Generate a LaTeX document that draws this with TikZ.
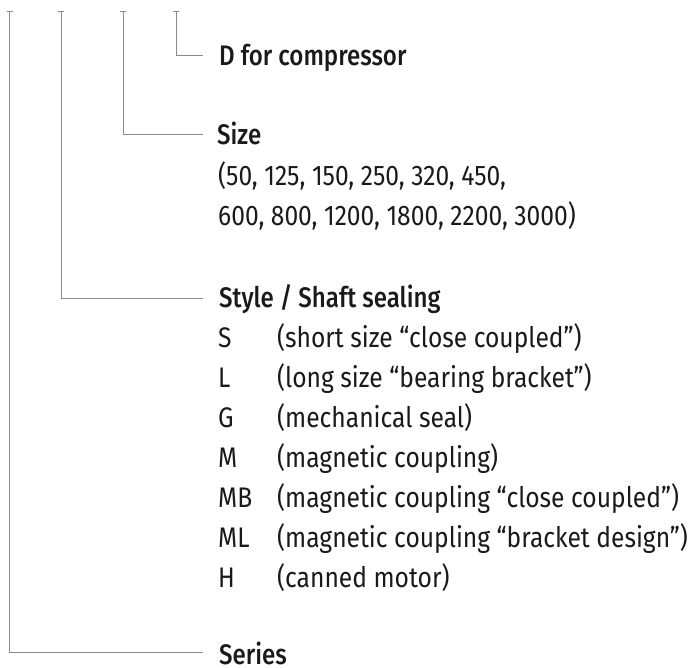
\documentclass[tikz,border=0pt]{standalone}
\usepackage{fontspec}
\setmainfont{Fira Sans}[FakeStretch=0.87]
\newfontfamily\headfont{Fira Sans Medium}[FakeStretch=0.85]
\definecolor{linegray}{HTML}{8A8A8A}
\definecolor{txt}{HTML}{1A1A1A}
\begin{document}
\begin{tikzpicture}[x=1pt,y=-1pt,
  conn/.style={draw=linegray,line width=1pt},
  head/.style={anchor=base west,inner sep=0pt,text=txt,font=\fontsize{28.3}{30}\headfont},
  body/.style={anchor=base west,inner sep=0pt,text=txt,font=\fontsize{28.3}{30}\selectfont}]
\useasboundingbox (0,0) rectangle (695,667);
% top ends
\coordinate (t1) at (9.5,11);
\coordinate (t2) at (61,11);
\coordinate (t3) at (123,11);
\coordinate (t4) at (176,11);
% labels
\node[head] (dcomp) at (219,65) {D for compressor};
\node[head] (size) at (217,144) {Size};
\node[body] (sz1) at (218,185) {(50, 125, 150, 250, 320, 450,};
\node[body] (sz2) at (218,225) {600, 800, 1200, 1800, 2200, 3000)};
\node[head] (style) at (219,307) {Style / Shaft sealing};
\node[body] (kS) at (218,347) {S};
\node[body] (dS) at (277,347) {(short size “close coupled”)};
\node[body] (kL) at (218,387) {L};
\node[body] (dL) at (277,387) {(long size “bearing bracket”)};
\node[body] (kG) at (218,427) {G};
\node[body] (dG) at (277,427) {(mechanical seal)};
\node[body] (kM) at (218,467) {M};
\node[body] (dM) at (277,467) {(magnetic coupling)};
\node[body] (kMB) at (218,507) {MB};
\node[body] (dMB) at (277,507) {(magnetic coupling “close coupled”)};
\node[body] (kML) at (218,547) {ML};
\node[body] (dML) at (277,547) {(magnetic coupling “bracket design”)};
\node[body] (kH) at (218,587) {H};
\node[body] (dH) at (277,587) {(canned motor)};
\node[head,text depth=0pt] (series) at (219,664) {Series};
% connector ends
\coordinate (e4) at (203,55);
\coordinate (e3) at (203,134);
\coordinate (e2) at (203,298);
\coordinate (e1) at (203,652.5);
% connectors
\draw[conn] (t4) |- (e4);
\draw[conn] (t3) |- (e3);
\draw[conn] (t2) |- (e2);
\draw[conn] (t1) |- (e1);
% top ticks
\foreach \t in {t1,t2,t3,t4}
  \draw[conn] ([xshift=-3pt]\t) -- ([xshift=3pt]\t);
\end{tikzpicture}
\end{document}
